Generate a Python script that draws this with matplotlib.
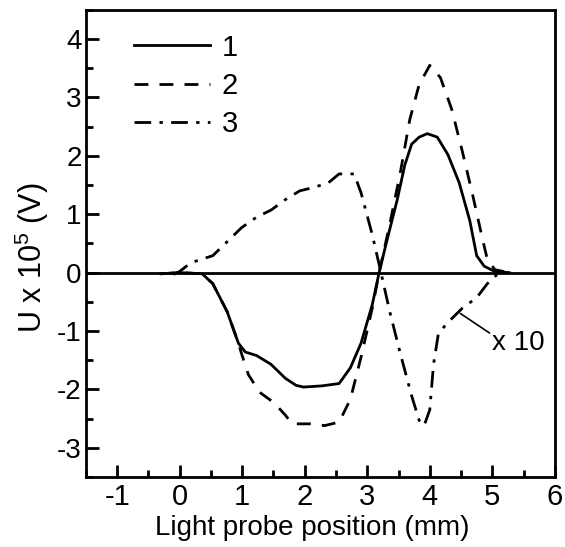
"Recreate probe signal plot"
import matplotlib
matplotlib.use("Agg")
import matplotlib.pyplot as plt
from matplotlib.ticker import MultipleLocator

plt.rcParams["font.family"] = ["Liberation Sans", "DejaVu Sans"]
plt.rcParams["mathtext.fontset"] = "custom"
plt.rcParams["mathtext.rm"] = "Liberation Sans"

# curve 1 (solid)
x1 = [-0.3, 0.0, 0.36, 0.53, 0.76, 0.94, 1.05, 1.23, 1.46, 1.69, 1.86, 1.98, 2.27, 2.55,
      2.73, 2.9, 3.08, 3.19, 3.31, 3.48, 3.6, 3.71, 3.83, 3.96, 4.12, 4.29, 4.47, 4.64,
      4.75, 4.87, 5.04, 5.27]
y1 = [-0.02, 0.0, -0.02, -0.19, -0.67, -1.21, -1.36, -1.42, -1.57, -1.81, -1.93, -1.96,
      -1.94, -1.9, -1.63, -1.21, -0.55, 0.0, 0.53, 1.25, 1.84, 2.2, 2.32, 2.38, 2.32, 2.02,
      1.54, 0.89, 0.29, 0.11, 0.02, 0.0]

# curve 2 (dashed)
x2 = [-0.3, 0.0, 0.36, 0.53, 0.76, 0.94, 0.99, 1.1, 1.28, 1.51, 1.69, 1.8, 2.09, 2.32,
      2.55, 2.73, 2.9, 3.08, 3.19, 3.36, 3.53, 3.68, 3.83, 4.0, 4.17, 4.35, 4.52, 4.69,
      4.84, 4.92, 5.04, 5.27]
y2 = [-0.02, 0.0, -0.02, -0.19, -0.67, -1.21, -1.39, -1.75, -2.05, -2.23, -2.44, -2.59,
      -2.59, -2.62, -2.56, -2.17, -1.45, -0.61, 0.0, 0.83, 1.72, 2.62, 3.22, 3.55, 3.34,
      2.8, 2.08, 1.31, 0.59, 0.23, 0.05, 0.0]

# curve 3 (dash-dot, x10)
x3 = [-0.1, 0.0, 0.18, 0.53, 0.76, 0.99, 1.23, 1.46, 1.69, 1.92, 2.15, 2.38, 2.55, 2.79,
      2.9, 3.08, 3.22, 3.36, 3.53, 3.71, 3.83, 3.91, 4.0, 4.06, 4.14, 4.35, 4.52, 4.75,
      4.92, 5.07, 5.21]
y3 = [-0.03, 0.02, 0.17, 0.29, 0.53, 0.77, 0.95, 1.07, 1.25, 1.4, 1.46, 1.54, 1.69, 1.69,
      1.37, 0.65, 0.0, -0.67, -1.39, -2.11, -2.53, -2.62, -2.35, -1.57, -1.03, -0.79, -0.61,
      -0.43, -0.19, -0.04, 0.0]

fig = plt.figure(figsize=(5.65, 5.47), dpi=100)
ax = fig.add_axes([0.152, 0.128, 0.830, 0.854])

ax.axhline(0, color="black", linewidth=2.0, zorder=1)
ax.plot(x1, y1, color="black", linewidth=2.0, label="1")
ax.plot(x2, y2, color="black", linewidth=2.0, dashes=(5, 4), label="2")
ax.plot(x3, y3, color="black", linewidth=2.0, dashes=(6, 3, 1.2, 3), label="3")

ax.annotate("x 10", xy=(4.49, -0.7), xytext=(5.0, -1.2), fontsize=20,
            va="center", ha="left",
            arrowprops=dict(arrowstyle="-", color="black", linewidth=1.2,
                            shrinkA=0, shrinkB=0, relpos=(0.0, 0.8)))

ax.set_xlim(-1.5, 6)
ax.set_ylim(-3.5, 4.5)
ax.xaxis.set_minor_locator(MultipleLocator(0.5))
ax.yaxis.set_minor_locator(MultipleLocator(0.5))
ax.tick_params(which="both", direction="in", width=2, top=False, right=False)
ax.tick_params(which="major", length=9)
ax.tick_params(which="minor", length=5)
ax.tick_params(axis="x", labelsize=21, pad=4)
ax.tick_params(axis="y", labelsize=20, pad=3)
ax.set_xticks([-1, 0, 1, 2, 3, 4, 5, 6])
ax.set_xticklabels(["-1", "0", "1", "2", "3", "4", "5", "6"])
ax.set_yticks([-3, -2, -1, 0, 1, 2, 3, 4])
ax.set_yticklabels(["-3", "-2", "-1", "0", "1", "2", "3", "4"])
for sp in ax.spines.values():
    sp.set_linewidth(2)

ax.set_xlabel("Light probe position (mm)", fontsize=20)
ax.xaxis.set_label_coords(0.482, -0.082)
ax.set_ylabel("U x 10$^5$ (V)", fontsize=22)
ax.yaxis.set_label_coords(-0.075, 0.469)

ax.legend(loc="upper left", bbox_to_anchor=(0.078, 0.974), frameon=False, fontsize=21,
          handlelength=2.6, handletextpad=0.4, labelspacing=0.35, borderaxespad=0.0)

plt.savefig("out.png")
